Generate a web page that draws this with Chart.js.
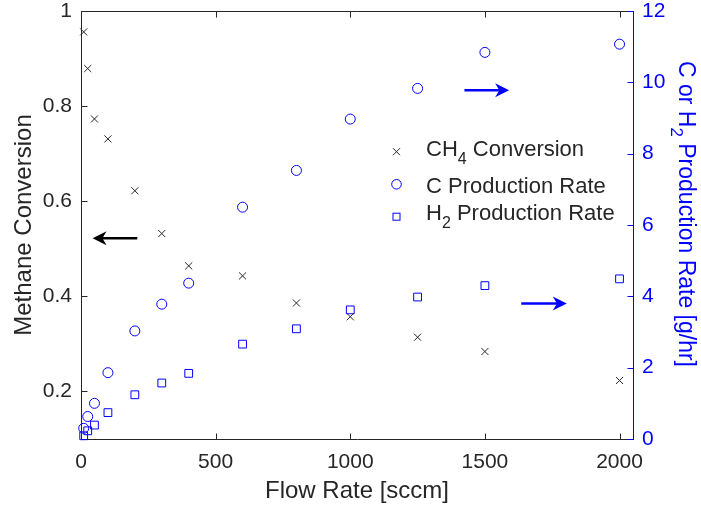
<!DOCTYPE html>
<html><head><meta charset="utf-8">
<script src="https://cdn.jsdelivr.net/npm/chart.js@4.4.1/dist/chart.umd.min.js"></script>
<style>html,body{margin:0;padding:0;background:#fff;overflow:hidden}#wrap{width:701px;height:510px;position:relative}</style>
</head><body><div id="wrap"><canvas id="c" width="701" height="510"></canvas></div>
<script>
// ---- data ----
const flowRates = [10, 25, 50, 100, 200, 300, 400, 600, 800, 1000, 1250, 1500, 2000];
const ch4Conversion = [0.956, 0.879, 0.773, 0.731, 0.622, 0.532, 0.464, 0.443, 0.386, 0.357, 0.314, 0.284, 0.223];
const cProductionRate = [0.30, 0.63, 1.00, 1.86, 3.03, 3.78, 4.37, 6.50, 7.53, 8.97, 9.83, 10.84, 11.07];
const h2ProductionRate = [0.09, 0.23, 0.39, 0.74, 1.24, 1.57, 1.84, 2.66, 3.09, 3.62, 3.98, 4.30, 4.49];
const xTicks = [0, 500, 1000, 1500, 2000];
const xTickLabels = ['0', '500', '1000', '1500', '2000'];
const leftTicks = [0.2, 0.4, 0.6, 0.8, 1];
const leftTickLabels = ['0.2', '0.4', '0.6', '0.8', '1'];
const rightTicks = [0, 2, 4, 6, 8, 10, 12];
const rightTickLabels = ['0', '2', '4', '6', '8', '10', '12'];
// annotation arrows in data coordinates (tail x, tip x, y value, axis)
const arrowTails = [209, 1424, 1635];
const arrowTips = [43, 1590, 1804];
const arrowYs = [0.522, 9.78, 3.80];
const arrowAxes = ['yL', 'yR', 'yR'];

const FONT = '"Liberation Sans", Arial, Helvetica, sans-serif';
const DARK = '#262626';
const BLUE = 'rgb(0,0,255)';

function pts(ys) { return flowRates.map((x, i) => ({x: x, y: ys[i]})); }

function drawRich(ctx, parts, x, y, size, subSize, subDy) {
  let cx = x;
  for (const p of parts) {
    ctx.font = (p.sub ? subSize : size) + 'px ' + FONT;
    ctx.fillText(p.t, cx, y + (p.sub ? subDy : 0));
    cx += ctx.measureText(p.t).width;
  }
  return cx;
}
function richWidth(ctx, parts, size, subSize) {
  let w = 0;
  for (const p of parts) { ctx.font = (p.sub ? subSize : size) + 'px ' + FONT; w += ctx.measureText(p.t).width; }
  return w;
}
function noPad(s) { s.paddingTop = 0; s.paddingBottom = 0; s.paddingLeft = 0; s.paddingRight = 0; }

const decor = {
  id: 'decor',
  afterDraw(chart) {
    const ctx = chart.ctx;
    const a = chart.chartArea;
    const xs = chart.scales.x, yl = chart.scales.yL, yr = chart.scales.yR;
    const L = Math.round(a.left) + 0.5, R = Math.round(a.right) + 0.5;
    const T = Math.round(a.top) + 0.5, B = Math.round(a.bottom) + 0.5;
    ctx.save();
    // top box line
    ctx.strokeStyle = DARK; ctx.lineWidth = 1;
    ctx.beginPath(); ctx.moveTo(L, T); ctx.lineTo(R - 0.5, T); ctx.stroke();
    // inward ticks
    const tl = 6;
    ctx.beginPath();
    for (const v of xTicks) {
      const px = Math.round(xs.getPixelForValue(v)) + 0.5;
      ctx.moveTo(px, B); ctx.lineTo(px, B - tl);
      ctx.moveTo(px, T); ctx.lineTo(px, T + tl);
    }
    for (const v of leftTicks) {
      const py = Math.round(yl.getPixelForValue(v)) + 0.5;
      ctx.moveTo(L, py); ctx.lineTo(L + tl, py);
    }
    ctx.stroke();
    ctx.strokeStyle = BLUE;
    ctx.beginPath();
    for (const v of rightTicks) {
      const py = Math.round(yr.getPixelForValue(v)) + 0.5;
      ctx.moveTo(R, py); ctx.lineTo(R - tl, py);
    }
    ctx.stroke();

    // arrows
    for (let i = 0; i < arrowTails.length; i++) {
      const ys = arrowAxes[i] === 'yL' ? yl : yr;
      const col = arrowAxes[i] === 'yL' ? '#000' : BLUE;
      const x1 = xs.getPixelForValue(arrowTails[i]);
      const x2 = xs.getPixelForValue(arrowTips[i]);
      const y = ys.getPixelForValue(arrowYs[i]);
      const dir = Math.sign(x2 - x1);
      const hl = 14, hw = 7;
      ctx.strokeStyle = col; ctx.fillStyle = col; ctx.lineWidth = 2.5;
      ctx.beginPath(); ctx.moveTo(x1, y); ctx.lineTo(x2 - dir * hl * 0.6, y); ctx.stroke();
      ctx.beginPath();
      ctx.moveTo(x2, y);
      ctx.lineTo(x2 - dir * hl, y - hw);
      ctx.lineTo(x2 - dir * hl * 0.7, y);
      ctx.lineTo(x2 - dir * hl, y + hw);
      ctx.closePath(); ctx.fill();
    }

    // legend
    const mx = 396.5;
    ctx.lineWidth = 1;
    ctx.strokeStyle = DARK;
    ctx.beginPath();
    ctx.moveTo(mx - 3.5, 148.2); ctx.lineTo(mx + 3.5, 155.2);
    ctx.moveTo(mx - 3.5, 155.2); ctx.lineTo(mx + 3.5, 148.2);
    ctx.stroke();
    ctx.strokeStyle = BLUE;
    ctx.beginPath(); ctx.arc(mx, 184.3, 4.8, 0, Math.PI * 2); ctx.stroke();
    ctx.strokeRect(mx - 3.5, 213.2, 7, 7);
    ctx.fillStyle = DARK;
    ctx.textAlign = 'left'; ctx.textBaseline = 'alphabetic';
    const tx = 426;
    drawRich(ctx, [{t: 'CH'}, {t: '4', sub: true}, {t: ' Conversion'}], tx, 156, 22, 16, 8);
    drawRich(ctx, [{t: 'C Production Rate'}], tx, 193, 22, 16, 8);
    drawRich(ctx, [{t: 'H'}, {t: '2', sub: true}, {t: ' Production Rate'}], tx, 220, 22, 16, 8);

    // axis titles
    ctx.fillStyle = DARK;
    ctx.font = '24px ' + FONT;
    ctx.textAlign = 'center';
    ctx.fillText('Flow Rate [sccm]', (a.left + a.right) / 2, 498);
    ctx.save();
    ctx.translate(31, (a.top + a.bottom) / 2);
    ctx.rotate(-Math.PI / 2);
    ctx.fillText('Methane Conversion', 0, 0);
    ctx.restore();
    ctx.save();
    ctx.fillStyle = BLUE;
    ctx.textAlign = 'left';
    const parts = [{t: 'C or H'}, {t: '2', sub: true}, {t: ' Production Rate [g/hr]'}];
    const w = richWidth(ctx, parts, 23, 17);
    ctx.translate(679, (a.top + a.bottom) / 2 - 11);
    ctx.rotate(Math.PI / 2);
    drawRich(ctx, parts, -w / 2, 0, 23, 17, 8);
    ctx.restore();
    ctx.restore();
  }
};

new Chart(document.getElementById('c'), {
  type: 'scatter',
  data: {
    datasets: [
      {label: 'CH4 Conversion', data: pts(ch4Conversion), yAxisID: 'yL', pointStyle: 'crossRot', pointRadius: 5,
       borderColor: DARK, backgroundColor: 'rgba(0,0,0,0)', borderWidth: 1, clip: false},
      {label: 'C Production Rate', data: pts(cProductionRate), yAxisID: 'yR', pointStyle: 'circle', pointRadius: 5,
       borderColor: BLUE, backgroundColor: 'rgba(0,0,0,0)', borderWidth: 1, clip: false},
      {label: 'H2 Production Rate', data: pts(h2ProductionRate), yAxisID: 'yR', pointStyle: 'rect', pointRadius: 5.5,
       borderColor: BLUE, backgroundColor: 'rgba(0,0,0,0)', borderWidth: 1, clip: false}
    ]
  },
  options: {
    responsive: false, animation: false, devicePixelRatio: 1,
    layout: {padding: {top: 11, left: 0, right: 0, bottom: 0}},
    plugins: {legend: {display: false}, tooltip: {enabled: false}},
    events: [],
    scales: {
      x: {
        type: 'linear', position: 'bottom', min: 0, max: 2050,
        afterBuildTicks: s => { s.ticks = xTicks.map(v => ({value: v})); },
        afterFit: s => { s.height = 71; noPad(s); },
        ticks: {callback: v => xTickLabels[xTicks.indexOf(v)], font: {family: FONT, size: 21, lineHeight: 1}, color: DARK, padding: 13, maxRotation: 0, autoSkip: false},
        grid: {display: false, drawTicks: false, tickLength: 0},
        border: {display: true, color: DARK, width: 1}
      },
      yL: {
        type: 'linear', position: 'left', min: 0.1, max: 1,
        afterBuildTicks: s => { s.ticks = leftTicks.map(v => ({value: v})); },
        afterFit: s => { s.width = 81; noPad(s); },
        ticks: {callback: v => leftTickLabels[leftTicks.indexOf(v)], font: {family: FONT, size: 21, lineHeight: 1}, color: DARK, padding: 9, autoSkip: false},
        grid: {display: false, drawTicks: false, tickLength: 0},
        border: {display: true, color: DARK, width: 1}
      },
      yR: {
        type: 'linear', position: 'right', min: 0, max: 12,
        afterBuildTicks: s => { s.ticks = rightTicks.map(v => ({value: v})); },
        afterFit: s => { s.width = 68; noPad(s); },
        ticks: {callback: v => rightTickLabels[rightTicks.indexOf(v)], font: {family: FONT, size: 21, lineHeight: 1}, color: BLUE, padding: 9, autoSkip: false},
        grid: {display: false, drawTicks: false, tickLength: 0},
        border: {display: true, color: BLUE, width: 1}
      }
    }
  },
  plugins: [decor]
});
</script></body></html>
